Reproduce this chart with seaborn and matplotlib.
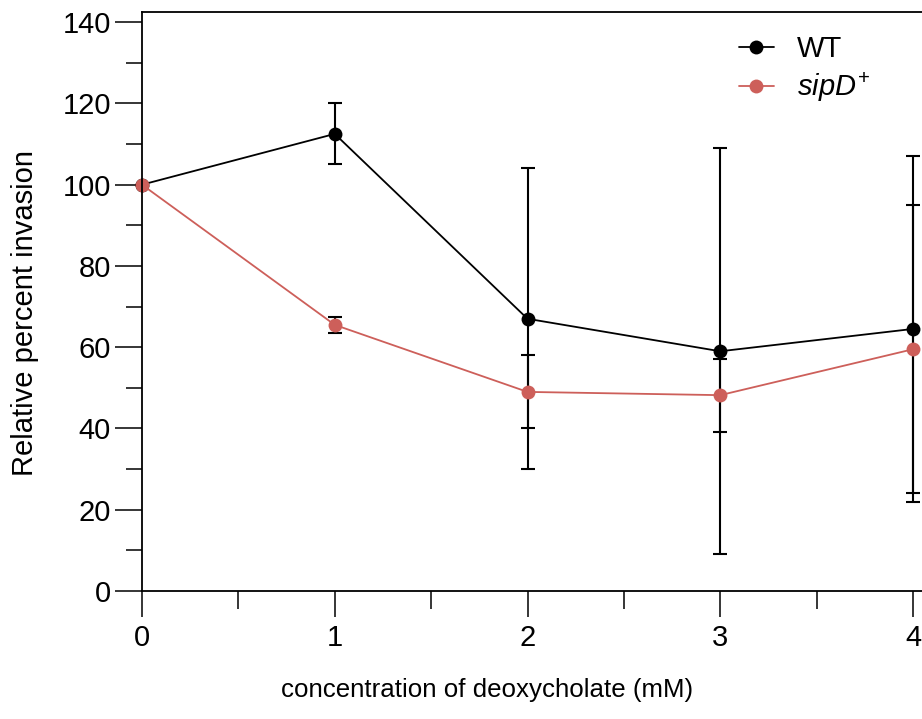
import numpy as np
import pandas as pd
import seaborn as sns
import matplotlib
matplotlib.use("Agg")
import matplotlib.pyplot as plt
from matplotlib.ticker import MultipleLocator

# ---- data ----
conc = [0, 1, 2, 3, 4]
wt_mean = [100, 112.5, 67, 59, 64.5]
wt_err = [0, 7.5, 37, 50, 42.5]
sipd_mean = [100, 65.5, 49, 48.2, 59.5]
sipd_err = [0, 2, 9, 9, 35.5]
series_names = ["WT", r"$\mathit{sipD}^{\mathrm{+}}$"]
colors = ["#000000", "#CD5F5A"]
yticks = [0, 20, 40, 60, 80, 100, 120, 140]
xticks = [0, 1, 2, 3, 4]

sns.set_style("ticks")
plt.rcParams["font.family"] = ["Liberation Sans", "DejaVu Sans"]
plt.rcParams["mathtext.fontset"] = "custom"
plt.rcParams["mathtext.rm"] = "Liberation Sans"
plt.rcParams["mathtext.it"] = "Liberation Sans:italic"
plt.rcParams["text.color"] = "black"
plt.rcParams["axes.labelcolor"] = "black"
plt.rcParams["xtick.color"] = "black"
plt.rcParams["ytick.color"] = "black"

df = pd.DataFrame({
    "conc": conc * 2,
    "value": wt_mean + sipd_mean,
    "err": wt_err + sipd_err,
    "series": [series_names[0]] * len(conc) + [series_names[1]] * len(conc),
})

fig = plt.figure(figsize=(9.22, 7.19), dpi=100)
ax = fig.add_axes([142 / 922, 128 / 719, 4.2 * 192.75 / 922, 579 / 719])

# error bars (all black), under the markers
for name in series_names:
    sub = df[df["series"] == name]
    ax.errorbar(sub["conc"], sub["value"], yerr=sub["err"], fmt="none",
                ecolor="black", elinewidth=1.5, capsize=5, capthick=1.5,
                zorder=1.5, clip_on=False)

sns.lineplot(data=df, x="conc", y="value", hue="series", palette=colors,
             hue_order=series_names, marker="o", markersize=10,
             markeredgewidth=0, linewidth=1.3, ax=ax, zorder=2,
             clip_on=False, errorbar=None)

ax.set_xlim(0, 4.2)
ax.set_ylim(0, 142.5)
ax.set_xticks(xticks)
ax.set_yticks(yticks)
ax.xaxis.set_minor_locator(MultipleLocator(0.5))
ax.yaxis.set_minor_locator(MultipleLocator(10))

ax.tick_params(axis="x", which="major", length=18.7, width=1.1, pad=5,
               labelsize=21, direction="out")
ax.tick_params(axis="x", which="minor", length=13, width=1.1, direction="out")
ax.tick_params(axis="y", which="major", length=19.5, width=1.1, pad=3,
               labelsize=21, direction="out")
ax.tick_params(axis="y", which="minor", length=11.5, width=1.1, direction="out")

for s in ["left", "bottom", "top"]:
    ax.spines[s].set_linewidth(1.3)
    ax.spines[s].set_color("black")
ax.spines["right"].set_visible(False)

ax.set_xlabel("concentration of deoxycholate (mM)", fontsize=18.6)
ax.set_ylabel("Relative percent invasion", fontsize=21)
ax.xaxis.set_label_coords((487 - 142) / (4.2 * 192.75), -(690 - 591) / 579,
                          transform=ax.transAxes)
ax.xaxis.label.set_va("center")
ax.yaxis.set_label_coords(-(142 - 25) / (4.2 * 192.75), (591 - 313) / 579,
                          transform=ax.transAxes)
ax.yaxis.label.set_va("center")

leg = ax.legend(loc="upper left", bbox_to_anchor=(0.705, 1.005), frameon=False,
                fontsize=21, handlelength=1.2, handletextpad=0.8,
                labelspacing=0.25)

fig.savefig("out.png", dpi=100)
